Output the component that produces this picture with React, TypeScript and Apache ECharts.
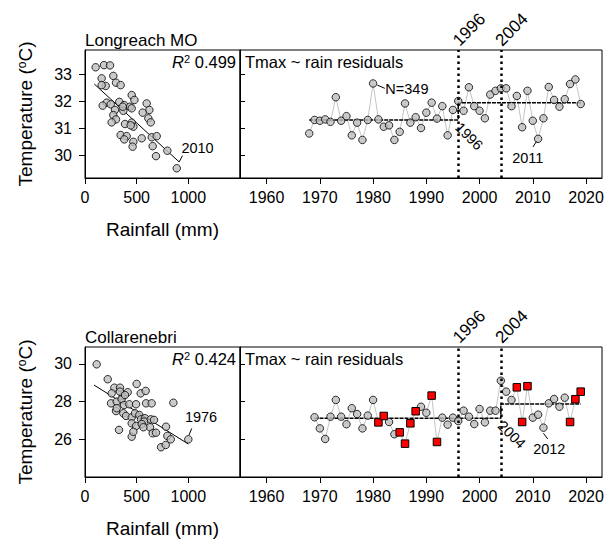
import React, { useEffect, useRef } from "react";
import * as echarts from "echarts";

const FONT = '"Liberation Sans", Arial, Helvetica, sans-serif';

// ---- Longreach MO : Tmax vs rainfall ----
const tlRain = [103, 184, 242, 274, 161, 200, 161, 300, 345, 452, 478, 210, 171, 249, 332, 380, 435, 290, 371, 452, 597, 623, 558, 613, 636, 274, 300, 258, 387, 452, 468, 442, 345, 403, 380, 468, 461, 549, 646, 694, 655, 687, 797, 888, 365];
const tlTemp = [33.25, 33.33, 33.32, 32.93, 32.84, 32.56, 32.59, 32.68, 32.59, 32.22, 32.04, 31.94, 31.83, 31.88, 31.97, 31.85, 31.79, 31.67, 31.64, 31.73, 31.91, 31.67, 31.57, 31.36, 31.21, 31.48, 31.32, 31.21, 31.15, 31.2, 31.05, 31.1, 30.74, 30.7, 30.58, 30.49, 30.31, 30.62, 30.66, 30.7, 30.33, 29.96, 30.16, 29.51, 31.79];
const tlFitRain = [90, 910];
const tlFitTemp = [32.63, 29.75];

// ---- Longreach MO : residual series ----
const trYears = [1968, 1969, 1970, 1971, 1972, 1973, 1974, 1975, 1976, 1977, 1978, 1979, 1980, 1981, 1982, 1983, 1984, 1985, 1986, 1987, 1988, 1989, 1990, 1991, 1992, 1993, 1994, 1995, 1996, 1997, 1998, 1999, 2000, 2001, 2002, 2003, 2004, 2005, 2006, 2007, 2008, 2009, 2010, 2011, 2012, 2013, 2014, 2015, 2016, 2017, 2018, 2019];
const trTemp = [30.8, 31.3, 31.27, 31.32, 31.23, 32.14, 31.27, 31.44, 30.73, 31.2, 30.56, 31.3, 32.65, 31.32, 31.05, 31.1, 30.56, 30.86, 31.91, 31.2, 31.4, 31.0, 31.57, 31.94, 31.35, 31.81, 30.73, 31.67, 32.0, 31.64, 32.51, 31.81, 31.64, 31.36, 32.24, 32.38, 32.47, 32.47, 31.81, 32.19, 31.03, 32.38, 31.27, 30.6, 31.36, 32.52, 32.04, 31.79, 32.07, 32.63, 32.8, 31.89];
const trStepYears = [1968, 1996, 1996, 2019];
const trStepTemp = [31.3, 31.3, 31.94, 31.94];

// ---- Collarenebri : Tmax vs rainfall ----
const blRain = [113, 220, 284, 339, 258, 365, 413, 500, 539, 587, 855, 252, 307, 355, 378, 429, 494, 591, 645, 300, 371, 397, 452, 484, 526, 542, 581, 636, 668, 571, 452, 494, 549, 629, 655, 687, 784, 797, 830, 736, 781, 452, 329, 1000, 339, 387, 307, 468, 565];
const blTemp = [29.98, 29.19, 28.74, 28.74, 28.44, 28.3, 28.5, 28.94, 28.44, 28.57, 27.94, 27.91, 28.0, 28.13, 27.82, 27.86, 27.86, 27.91, 27.91, 27.5, 27.38, 27.24, 27.17, 27.38, 27.29, 27.06, 27.12, 27.06, 27.03, 26.94, 26.85, 26.71, 26.81, 26.64, 26.32, 26.35, 26.67, 26.18, 26.0, 25.58, 25.7, 26.14, 26.5, 26.0, 28.53, 28.35, 27.65, 26.4, 26.64];
const blFitRain = [87, 1000];
const blFitTemp = [28.88, 25.75];

// ---- Collarenebri : residual series ----
const brYears = [1969, 1970, 1971, 1972, 1973, 1974, 1975, 1976, 1977, 1978, 1979, 1980, 1981, 1982, 1983, 1984, 1985, 1986, 1987, 1988, 1989, 1990, 1991, 1992, 1993, 1994, 1995, 1996, 1997, 1998, 1999, 2000, 2001, 2002, 2003, 2004, 2005, 2006, 2007, 2008, 2009, 2010, 2011, 2012, 2013, 2014, 2015, 2016, 2017, 2018, 2019];
const brTemp = [27.17, 26.58, 26.02, 27.2, 28.09, 27.2, 26.8, 27.65, 27.34, 26.58, 27.26, 28.09, 26.9, 27.24, 26.92, 26.27, 26.37, 25.77, 26.85, 27.49, 27.73, 27.41, 28.32, 25.86, 27.15, 26.78, 27.15, 26.97, 27.52, 27.2, 26.81, 27.61, 26.9, 27.52, 27.52, 29.11, 28.53, 28.09, 28.76, 26.92, 28.82, 27.15, 27.31, 26.62, 27.91, 28.14, 27.73, 28.21, 26.92, 28.13, 28.53];
const brRedYears = [1981, 1982, 1985, 1986, 1987, 1988, 1991, 1992, 2007, 2008, 2009, 2017, 2018, 2019];
const brStepYears = [1969, 2004, 2004, 2019];
const brStepTemp = [27.12, 27.12, 27.88, 27.88];

const breakYears = [1996, 2004];

// ---- axes ----
const rainTicks = [0, 500, 1000];
const yearTicks = [1960, 1970, 1980, 1990, 2000, 2010, 2020];
const topTempTicks = [30, 31, 32, 33];
const bottomTempTicks = [26, 28, 30];
const rainRange = [0, 1500];
const yearRange = [1955, 2023];
const topTempRange = [29.15, 33.89];
const bottomTempRange = [24.0, 30.9];

// ---- annotations (data coordinates) ----
const noteText = ["2010", "N=349", "2011", "1976", "2012"];
const noteGrid = [0, 1, 1, 2, 3];
const noteX = [1089, 1982.3, 2009.05, 1123, 2013.1];
const noteY = [30.26, 32.44, 29.88, 27.16, 25.51];
const noteAlign = ["center", "left", "center", "center", "center"];
const leadX1 = [910, 1980.8, 2010.03, 1007, 2012.0];
const leadY1 = [29.74, 32.59, 30.3, 26.23, 26.32];
const leadX2 = [944, 1982.2, 2010.69, 1033, 2012.8];
const leadY2 = [29.98, 32.47, 30.5, 26.58, 26.02];
const stepNoteGrid = [1, 3];
const stepNoteText = ["1996", "2004"];
const stepNoteX = [1996, 2004];
const stepNoteY = [31.3, 27.12];

const titles = ["Longreach MO", "Collarenebri"];
const r2Values = ["0.499", "0.424"];

const zip = (a: number[], b: number[]) => a.map((v, i) => [v, b[i]]);

const black = "#000";
const tickFont = { fontSize: 16, color: black, fontFamily: FONT };

function xAxisCfg(grid: number, rain: boolean) {
  const ticks = rain ? rainTicks : yearTicks;
  const range = rain ? rainRange : yearRange;
  return {
    type: "value",
    gridIndex: grid,
    min: range[0],
    max: range[1],
    axisLine: { show: true, lineStyle: { color: black, width: 1 } },
    axisTick: { show: true, length: 6, lineStyle: { color: black }, customValues: ticks },
    axisLabel: { ...tickFont, margin: 11, customValues: ticks, formatter: (v: number) => String(v) },
    splitLine: { show: false },
    name: rain ? "Rainfall (mm)" : "",
    nameLocation: "middle",
    nameGap: 42,
    nameTextStyle: { fontSize: 19, color: black, fontFamily: FONT },
  };
}

function yAxisCfg(grid: number, top: boolean, left: boolean) {
  const ticks = top ? topTempTicks : bottomTempTicks;
  const range = top ? topTempRange : bottomTempRange;
  return {
    type: "value",
    gridIndex: grid,
    min: range[0],
    max: range[1],
    axisLine: { show: true, lineStyle: { color: black, width: 1 } },
    axisTick: { show: true, inside: !left, length: left ? 6 : 5, lineStyle: { color: black }, customValues: ticks },
    axisLabel: { show: left, ...tickFont, margin: 13, customValues: ticks, formatter: (v: number) => String(v) },
    splitLine: { show: false },
    name: left ? "{a|Temperature (}{s|o}{a|C)}" : "",
    nameLocation: "middle",
    nameRotate: 90,
    nameGap: 50,
    nameTextStyle: {
      fontSize: 19,
      color: black,
      fontFamily: FONT,
      rich: {
        a: { fontSize: 19, color: black, fontFamily: FONT, verticalAlign: "bottom" },
        s: { fontSize: 12, color: black, fontFamily: FONT, verticalAlign: "top" },
      },
    },
  };
}

const greyPoint = { color: "#bebebe", borderColor: black, borderWidth: 1 };

export default function App() {
  const ref = useRef<HTMLDivElement>(null);
  useEffect(() => {
    const chart = echarts.init(ref.current!, null, { renderer: "svg" });
    const gridBox = { show: true, borderColor: black, borderWidth: 1, backgroundColor: "transparent" };
    const option: any = {
      animation: false,
      backgroundColor: "#fff",
      textStyle: { fontFamily: FONT },
      grid: [
        { ...gridBox, left: 85, top: 50, width: 155, height: 128 },
        { ...gridBox, left: 240, top: 50, width: 362, height: 128 },
        { ...gridBox, left: 85, top: 347, width: 155, height: 130 },
        { ...gridBox, left: 240, top: 347, width: 362, height: 130 },
      ],
      xAxis: [xAxisCfg(0, true), xAxisCfg(1, false), xAxisCfg(2, true), xAxisCfg(3, false)],
      yAxis: [yAxisCfg(0, true, true), yAxisCfg(1, true, false), yAxisCfg(2, false, true), yAxisCfg(3, false, false)],
      series: [
        {
          type: "line", xAxisIndex: 0, yAxisIndex: 0, data: zip(tlFitRain, tlFitTemp),
          symbol: "none", lineStyle: { color: black, width: 1 }, z: 2,
        },
        {
          type: "scatter", xAxisIndex: 0, yAxisIndex: 0, data: zip(tlRain, tlTemp),
          symbol: "circle", symbolSize: 7.5, itemStyle: greyPoint, z: 3,
        },
        {
          type: "line", xAxisIndex: 1, yAxisIndex: 1, data: zip(trYears, trTemp),
          symbol: "none", lineStyle: { color: "#c4c4c4", width: 1 }, z: 1,
          markLine: {
            silent: true, symbol: ["none", "none"], label: { show: false },
            lineStyle: { color: black, width: 2.5, type: [2.5, 3.5] },
            data: breakYears.map((y) => ({ xAxis: y })),
          },
        },
        {
          type: "line", xAxisIndex: 1, yAxisIndex: 1, data: zip(trStepYears, trStepTemp),
          symbol: "none", lineStyle: { color: black, width: 1.5, type: [4, 1] }, z: 2,
        },
        {
          type: "scatter", xAxisIndex: 1, yAxisIndex: 1, data: zip(trYears, trTemp),
          symbol: "circle", symbolSize: 7.5, itemStyle: greyPoint, z: 3,
        },
        {
          type: "line", xAxisIndex: 2, yAxisIndex: 2, data: zip(blFitRain, blFitTemp),
          symbol: "none", lineStyle: { color: black, width: 1 }, z: 2,
        },
        {
          type: "scatter", xAxisIndex: 2, yAxisIndex: 2, data: zip(blRain, blTemp),
          symbol: "circle", symbolSize: 7.5, itemStyle: greyPoint, z: 3,
        },
        {
          type: "line", xAxisIndex: 3, yAxisIndex: 3, data: zip(brYears, brTemp),
          symbol: "none", lineStyle: { color: "#c4c4c4", width: 1 }, z: 1,
          markLine: {
            silent: true, symbol: ["none", "none"], label: { show: false },
            lineStyle: { color: black, width: 2.5, type: [2.5, 3.5] },
            data: breakYears.map((y) => ({ xAxis: y })),
          },
        },
        {
          type: "line", xAxisIndex: 3, yAxisIndex: 3, data: zip(brStepYears, brStepTemp),
          symbol: "none", lineStyle: { color: black, width: 1.5, type: [4, 1] }, z: 2,
        },
        {
          type: "scatter", xAxisIndex: 3, yAxisIndex: 3,
          data: zip(brYears, brTemp).filter((d) => !brRedYears.includes(d[0])),
          symbol: "circle", symbolSize: 7.5, itemStyle: greyPoint, z: 3,
        },
        {
          type: "scatter", xAxisIndex: 3, yAxisIndex: 3,
          data: zip(brYears, brTemp).filter((d) => brRedYears.includes(d[0])),
          symbol: "rect", symbolSize: 7.5, itemStyle: { color: "#ff0000", borderColor: black, borderWidth: 1, opacity: 1 }, z: 4,
        },
      ],
    };
    chart.setOption(option);

    const px = (g: number, x: number, y: number) =>
      chart.convertToPixel({ gridIndex: g } as any, [x, y]) as number[];

    const elements: any[] = [];
    const txt = (x: number, y: number, text: string, size: number, align: string, vAlign: string, rotation = 0, rich?: any) => ({
      type: "text", x, y, rotation, z: 10,
      style: { text, fontSize: size, fontFamily: FONT, fill: black, align, verticalAlign: vAlign, rich },
    });

    // panel titles, R2, residual captions
    const panelTop = [50, 347];
    [0, 1].forEach((p) => {
      elements.push(txt(85, panelTop[p] - 10, titles[p], 17, "left", "middle"));
      elements.push(
        txt(236, panelTop[p] + 12, `{i|R}{s|2}{n| ${r2Values[p]}}`, 16.5, "right", "middle", 0, {
          i: { fontSize: 16.5, fontStyle: "italic", fontFamily: FONT, fill: black, verticalAlign: "bottom" },
          s: { fontSize: 11, fontFamily: FONT, fill: black, verticalAlign: "top" },
          n: { fontSize: 16.5, fontFamily: FONT, fill: black, verticalAlign: "bottom" },
        })
      );
      elements.push(txt(245, panelTop[p] + 12, "Tmax ~ rain residuals", 16.5, "left", "middle"));
    });

    // break-year labels above the residual panels
    [1, 3].forEach((g) => {
      const yMax = g === 1 ? topTempRange[1] : bottomTempRange[1];
      breakYears.forEach((yr) => {
        const p = px(g, yr, yMax);
        elements.push(txt(p[0] - 2.5, p[1] - 7, String(yr), 17, "left", "middle", Math.PI / 4));
      });
    });

    // step labels below the break
    stepNoteText.forEach((t, i) => {
      const p = px(stepNoteGrid[i], stepNoteX[i], stepNoteY[i]);
      elements.push(txt(p[0] - 0.5, p[1] + 5, t, 14.5, "left", "middle", -Math.PI / 4));
    });

    // point notes and leaders
    noteText.forEach((t, i) => {
      const g = noteGrid[i];
      const p = px(g, noteX[i], noteY[i]);
      elements.push(txt(p[0], p[1], t, 14.5, noteAlign[i], "middle"));
      const a = px(g, leadX1[i], leadY1[i]);
      const b = px(g, leadX2[i], leadY2[i]);
      elements.push({
        type: "line", z: 10,
        shape: { x1: a[0], y1: a[1], x2: b[0], y2: b[1] },
        style: { stroke: black, lineWidth: 1 },
      });
    });

    chart.setOption({ graphic: { elements } });
    return () => chart.dispose();
  }, []);
  return (
    <div
      ref={ref}
      style={{ position: "fixed", left: 0, top: 0, width: 609, height: 542, background: "#fff" }}
    />
  );
}
